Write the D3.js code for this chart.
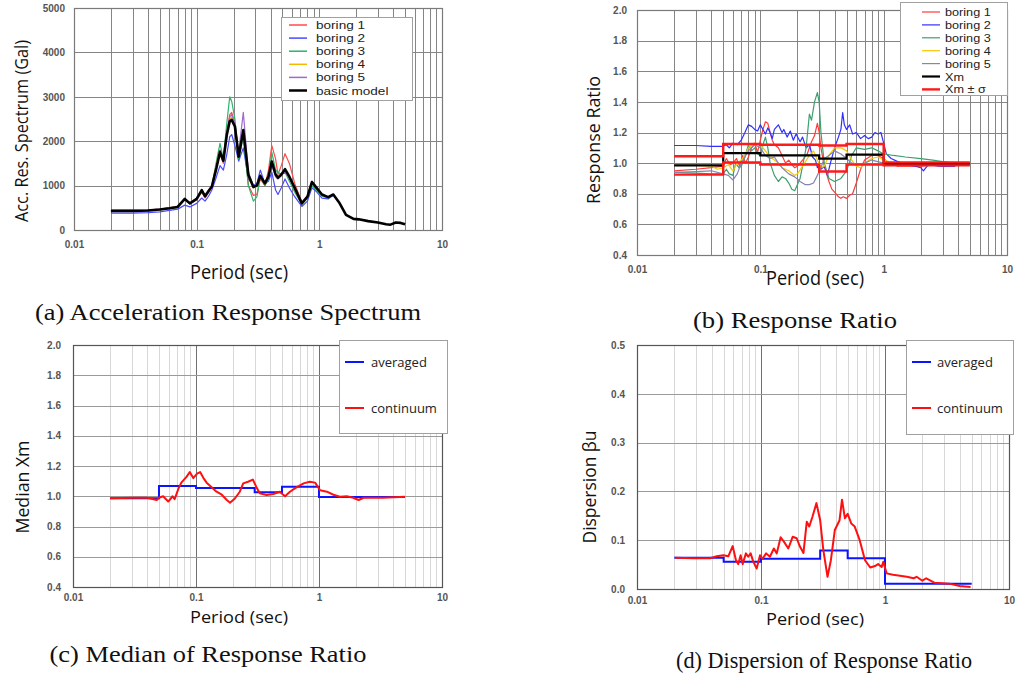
<!DOCTYPE html>
<html>
<head>
<meta charset="utf-8">
<script src="https://cdn.jsdelivr.net/npm/d3@7"></script>
<style>
  body { margin: 0; background: #fff; }
  svg { display: block; }
</style>
</head>
<body>
<svg id="fig" width="1016" height="674"></svg>
<script>
// ---- (a) acceleration response spectrum ----
const periodsA = [0.02, 0.03, 0.04, 0.05, 0.06, 0.07, 0.08, 0.088, 0.1, 0.11, 0.117, 0.125, 0.133, 0.145, 0.155, 0.165, 0.176, 0.186, 0.193, 0.205,
  0.22, 0.24, 0.264, 0.29, 0.31, 0.33, 0.36, 0.385, 0.41, 0.44, 0.46, 0.49, 0.525, 0.57, 0.63, 0.72, 0.8, 0.87, 0.95, 1.05, 1.18, 1.3,
  1.45, 1.65, 1.9, 2.1, 2.5, 3.0, 3.5, 3.8, 4.2, 4.6, 5.0];
const specBoring1 = [440, 440, 450, 470, 500, 530, 680, 590, 680, 850, 720, 840, 960, 1450, 1700, 1500, 2200, 2600, 2650, 2400,
  1700, 2150, 1000, 780, 800, 1150, 1000, 1350, 1900, 1600, 1250, 1450, 1720, 1500, 1050, 620, 760, 1080, 950, 790, 740, 800];
const specBoring2 = [380, 380, 390, 410, 440, 470, 560, 520, 600, 720, 650, 760, 900, 1200, 1450, 1350, 1700, 2100, 2150, 1900,
  1550, 1850, 1150, 1000, 1050, 1350, 1050, 1100, 1300, 900, 800, 950, 1150, 950, 750, 530, 650, 950, 860, 720, 700, 780];
const specBoring3 = [420, 420, 430, 450, 480, 510, 690, 590, 690, 870, 740, 870, 990, 1550, 1950, 1600, 2400, 3000, 2900, 2500,
  1600, 2100, 1000, 650, 750, 1200, 1000, 1150, 1750, 1350, 1300, 1250, 1300, 1100, 850, 580, 720, 1000, 900, 760, 720, 790];
const specBoring4 = [430, 430, 440, 465, 500, 540, 680, 600, 690, 880, 750, 870, 970, 1500, 1800, 1580, 2200, 2500, 2550, 2350,
  1680, 2200, 1200, 950, 980, 1200, 1030, 1180, 1500, 1220, 1150, 1230, 1340, 1180, 930, 590, 740, 1060, 940, 790, 735, 795];
const specBoring5 = [440, 440, 450, 470, 500, 530, 700, 610, 710, 910, 770, 890, 990, 1450, 1800, 1580, 2200, 2550, 2600, 2400,
  1750, 2650, 1300, 1000, 1020, 1230, 1060, 1220, 1450, 1200, 1150, 1220, 1320, 1160, 920, 600, 760, 1100, 960, 800, 750, 800];
const specBasic = [430, 430, 440, 460, 490, 520, 700, 600, 700, 900, 760, 880, 980, 1400, 1760, 1560, 2140, 2450, 2480, 2330,
  1650, 2250, 1240, 970, 1000, 1220, 1050, 1200, 1540, 1250, 1180, 1250, 1370, 1200, 950, 600, 750, 1080, 950, 800, 740, 800,
  620, 340, 250, 240, 200, 170, 130, 120, 170, 160, 130];

// ---- (b) response ratio, [period, ratio] ----
const ratioBoring1 = [[0.02,0.95],[0.03,0.96],[0.04,0.97],[0.05,0.98],[0.053,1.03],[0.057,0.99],[0.06,1.0],[0.064,1.03],[0.068,0.98],[0.072,1.05],
  [0.076,1.0],[0.08,1.04],[0.085,1.1],[0.09,1.13],[0.095,1.07],[0.1,1.15],[0.105,1.22],[0.11,1.27],[0.115,1.26],[0.12,1.2],[0.125,1.15],
  [0.13,1.12],[0.14,1.1],[0.15,1.05],[0.16,1.0],[0.17,1.02],[0.18,0.99],[0.19,0.97],[0.2,0.98],[0.22,1.02],[0.24,1.06],[0.26,1.14],
  [0.275,1.18],[0.29,1.26],[0.3,1.2],[0.31,1.1],[0.33,0.98],[0.36,0.88],[0.38,0.83],[0.4,0.81],[0.43,0.78],[0.45,0.77],[0.47,0.78],
  [0.5,0.77],[0.53,0.79],[0.56,0.8],[0.6,0.87],[0.65,0.96],[0.7,1.02],[0.8,1.05],[0.9,1.05],[1.0,1.03],[1.1,1.0],[1.3,0.98],
  [1.6,0.98],[2.0,0.98],[2.5,0.99],[3.0,0.98],[3.8,0.98]];
const ratioBoring2 = [[0.02,1.115],[0.03,1.115],[0.04,1.11],[0.05,1.11],[0.053,1.12],[0.056,1.1],[0.06,1.13],[0.065,1.12],[0.07,1.15],
  [0.075,1.2],[0.08,1.25],[0.085,1.24],[0.09,1.22],[0.095,1.21],[0.1,1.25],[0.105,1.22],[0.11,1.19],[0.115,1.23],[0.12,1.2],[0.125,1.16],
  [0.13,1.22],[0.14,1.25],[0.15,1.2],[0.155,1.22],[0.165,1.17],[0.175,1.21],[0.185,1.15],[0.195,1.19],[0.21,1.14],[0.22,1.17],
  [0.235,1.1],[0.25,1.12],[0.265,1.04],[0.28,1.02],[0.29,0.97],[0.3,1.0],[0.31,0.96],[0.33,0.98],[0.35,0.92],[0.37,1.0],[0.4,1.1],
  [0.43,1.17],[0.45,1.22],[0.465,1.33],[0.48,1.25],[0.5,1.22],[0.53,1.25],[0.56,1.19],[0.6,1.2],[0.65,1.16],[0.7,1.18],[0.75,1.16],
  [0.8,1.17],[0.85,1.2],[0.9,1.19],[0.95,1.2],[1.0,1.13],[1.05,1.06],[1.15,1.03],[1.3,1.01],[1.5,0.99],[1.8,0.98],[2.0,0.97],
  [2.1,0.95],[2.3,0.99],[2.8,0.98],[3.3,0.98],[3.8,0.98]];
const ratioBoring3 = [[0.02,0.94],[0.03,0.935],[0.04,0.93],[0.05,0.93],[0.053,0.96],[0.056,0.93],[0.06,0.92],[0.063,1.0],[0.067,0.97],
  [0.07,0.98],[0.075,1.04],[0.08,1.12],[0.085,1.08],[0.09,1.1],[0.095,1.06],[0.1,1.05],[0.105,1.12],[0.11,1.17],[0.115,1.1],[0.12,1.0],
  [0.13,0.92],[0.14,0.88],[0.15,0.91],[0.16,0.9],[0.17,0.87],[0.18,0.83],[0.19,0.82],[0.2,0.86],[0.21,0.9],[0.22,0.98],[0.235,1.1],
  [0.25,1.32],[0.26,1.28],[0.275,1.4],[0.29,1.46],[0.3,1.4],[0.31,1.2],[0.33,1.0],[0.36,0.9],[0.4,0.88],[0.45,0.9],[0.5,0.95],
  [0.55,1.05],[0.6,1.1],[0.7,1.09],[0.8,1.1],[0.9,1.08],[1.0,1.06],[1.2,1.05],[1.5,1.04],[2.0,1.03],[2.5,1.02],[3.0,1.01],[3.8,1.0]];
const ratioBoring4 = [[0.02,0.985],[0.03,0.985],[0.04,0.98],[0.045,0.96],[0.05,0.97],[0.055,0.99],[0.06,0.95],[0.065,1.0],[0.07,1.02],
  [0.075,1.05],[0.08,1.1],[0.09,1.13],[0.1,1.12],[0.11,1.08],[0.12,1.04],[0.13,1.02],[0.14,1.0],[0.15,0.97],[0.17,0.95],[0.19,0.92],
  [0.2,0.93],[0.22,0.98],[0.25,1.05],[0.27,1.08],[0.29,1.02],[0.31,0.97],[0.33,0.98],[0.36,1.05],[0.4,1.1],[0.45,1.1],[0.5,1.08],
  [0.55,1.02],[0.6,0.98],[0.65,0.97],[0.7,1.0],[0.8,1.03],[0.9,1.04],[1.0,1.02],[1.2,1.0],[1.5,0.99],[2.0,0.99],[3.0,0.99],[3.8,0.99]];
const ratioBoring5 = [[0.02,0.94],[0.03,0.945],[0.04,0.95],[0.05,0.93],[0.055,0.92],[0.06,0.89],[0.065,0.93],[0.07,1.0],[0.08,1.08],
  [0.09,1.12],[0.1,1.1],[0.11,1.05],[0.12,1.03],[0.13,1.04],[0.14,1.0],[0.15,0.97],[0.17,0.93],[0.19,0.91],[0.21,0.88],[0.23,0.86],
  [0.25,0.86],[0.27,0.87],[0.29,0.92],[0.31,0.97],[0.33,1.03],[0.36,1.05],[0.4,1.08],[0.45,1.06],[0.5,1.03],[0.55,1.0],[0.6,0.99],
  [0.7,1.0],[0.8,1.02],[1.0,1.0],[1.5,0.99],[3.8,0.99]];

// period bands used for the averaged (step) values
const bandEdges = [0.02, 0.05, 0.1, 0.3, 0.5, 1, 5];
const xmBands = [0.985, 1.065, 1.05, 1.03, 1.055, 0.995];
const xmPlusBands = [1.045, 1.125, 1.12, 1.115, 1.125, 1.005];
const xmMinusBands = [0.925, 1.005, 0.99, 0.945, 0.99, 0.985];

// ---- (c) median ----
const medianAveraged = [0.986, 1.067, 1.055, 1.026, 1.063, 0.995];
const medianContinuum = [[0.02,0.986],[0.031,0.99],[0.04,0.99],[0.048,0.975],[0.05,0.99],[0.054,1.0],[0.0595,0.965],[0.0645,1.0],
  [0.067,0.98],[0.072,1.05],[0.076,1.09],[0.084,1.13],[0.089,1.16],[0.095,1.12],[0.102,1.15],[0.108,1.16],[0.115,1.12],[0.122,1.09],
  [0.134,1.06],[0.147,1.03],[0.162,1.01],[0.178,0.975],[0.189,0.957],[0.207,0.985],[0.227,1.03],[0.242,1.085],[0.265,1.096],
  [0.29,1.11],[0.31,1.06],[0.33,1.02],[0.374,1.008],[0.425,1.015],[0.48,1.03],[0.53,1.0],[0.58,1.03],[0.66,1.06],[0.75,1.085],
  [0.84,1.096],[0.93,1.09],[1.02,1.04],[1.16,1.03],[1.31,1.01],[1.48,0.997],[1.68,1.0],[1.9,0.99],[2.1,0.975],[2.3,0.99],
  [3.3,0.99],[5.0,0.997]];

// ---- (d) dispersion ----
const dispAveraged = [0.064, 0.056, 0.062, 0.079, 0.063, 0.011];
const dispContinuum = [[0.0203,0.064],[0.0285,0.063],[0.0388,0.063],[0.044,0.067],[0.0497,0.069],[0.0545,0.067],[0.0591,0.088],
  [0.0628,0.059],[0.0655,0.051],[0.0685,0.069],[0.0711,0.051],[0.0756,0.073],[0.0789,0.066],[0.0825,0.073],[0.0866,0.056],
  [0.0923,0.042],[0.0982,0.069],[0.103,0.062],[0.11,0.073],[0.118,0.066],[0.127,0.083],[0.134,0.073],[0.144,0.106],[0.153,0.097],
  [0.166,0.083],[0.18,0.107],[0.194,0.104],[0.206,0.087],[0.22,0.074],[0.234,0.138],[0.245,0.128],[0.26,0.148],[0.28,0.176],
  [0.3,0.141],[0.318,0.08],[0.344,0.025],[0.366,0.059],[0.394,0.121],[0.43,0.141],[0.45,0.183],[0.475,0.145],[0.5,0.154],
  [0.535,0.134],[0.57,0.128],[0.625,0.1],[0.69,0.059],[0.76,0.044],[0.83,0.047],[0.88,0.051],[0.94,0.045],[0.97,0.056],
  [1.03,0.032],[1.16,0.029],[1.5,0.025],[1.7,0.022],[1.8,0.025],[2.0,0.017],[2.15,0.022],[2.5,0.013],[3.3,0.011],[4.0,0.006],[4.9,0.004]];

const xTickValues = [0.01, 0.1, 1, 10];

const svg = d3.select('#fig');
const fmtPeriod = d => d3.format('~g')(d);
const titleFont = 'Open Sans, Noto Sans, sans-serif';

// 画一个面板的坐标框和网格
function drawFrame(cfg) {
  const x = d3.scaleLog().domain([0.01, 10]).range([cfg.left, cfg.right]);
  const y = d3.scaleLinear().domain(cfg.yDomain).range([cfg.bottom, cfg.top]);
  const g = svg.append('g');

  // vertical grid (minor + decade)
  const minor = x.ticks().filter(t => t > 0.01 && t < 10);
  g.selectAll('.vgrid').data(minor).enter().append('line')
    .attr('x1', d => Math.round(x(d)) + 0.5).attr('x2', d => Math.round(x(d)) + 0.5)
    .attr('y1', cfg.top).attr('y2', cfg.bottom)
    .attr('stroke', d => {
      const decade = Math.abs(Math.log10(d) - Math.round(Math.log10(d))) < 1e-6;
      if (cfg.twoTone) return decade ? '#707070' : '#d8d8d8';
      return '#858585';
    })
    .attr('stroke-width', 1);

  // horizontal grid
  g.selectAll('.hgrid').data(cfg.yTicks.slice(1, -1)).enter().append('line')
    .attr('x1', cfg.left).attr('x2', cfg.right)
    .attr('y1', d => Math.round(y(d)) + 0.5).attr('y2', d => Math.round(y(d)) + 0.5)
    .attr('stroke', cfg.twoTone ? '#9a9a9a' : '#858585').attr('stroke-width', 1);

  g.append('rect')
    .attr('x', cfg.left + 0.5).attr('y', cfg.top + 0.5)
    .attr('width', cfg.right - cfg.left).attr('height', cfg.bottom - cfg.top)
    .attr('fill', 'none').attr('stroke', cfg.twoTone ? '#555' : '#7a7a7a').attr('stroke-width', 1.2);

  // tick labels
  const xAxis = g.append('g').attr('transform', `translate(0,${cfg.bottom + cfg.xLabelGap})`)
    .call(d3.axisBottom(x).tickValues(xTickValues).tickFormat(fmtPeriod).tickSize(0));
  const yAxis = g.append('g').attr('transform', `translate(${cfg.left - cfg.yLabelGap},0)`)
    .call(d3.axisLeft(y).tickValues(cfg.yTicks).tickFormat(cfg.yFormat).tickSize(0));
  [xAxis, yAxis].forEach(a => {
    a.select('.domain').remove();
    a.selectAll('text').attr('font-family', 'Liberation Sans, Arial, sans-serif')
      .attr('font-size', 10).attr('font-weight', 'bold').attr('fill', '#555');
  });

  // axis titles
  g.append('text').attr('x', cfg.xTitle[0]).attr('y', cfg.xTitle[1])
    .attr('text-anchor', 'middle').attr('font-family', titleFont)
    .attr('font-size', cfg.xTitleSize).attr('fill', '#111')
    .attr('textLength', 98).attr('lengthAdjust', 'spacingAndGlyphs')
    .text('Period (sec)');
  g.append('text')
    .attr('transform', `translate(${cfg.yTitle[0]},${cfg.yTitle[1]}) rotate(-90)`)
    .attr('text-anchor', 'middle').attr('dominant-baseline', 'central')
    .attr('font-family', titleFont).attr('font-size', 19).attr('fill', '#111')
    .attr('textLength', cfg.yTitleLen).attr('lengthAdjust', 'spacingAndGlyphs')
    .text(cfg.yTitleText);

  return { x, y, g };
}

function drawLine(p, pts, color, width) {
  const line = d3.line().x(d => p.x(d[0])).y(d => p.y(d[1]));
  p.g.append('path').datum(pts).attr('d', line)
    .attr('fill', 'none').attr('stroke', color).attr('stroke-width', width)
    .attr('stroke-linejoin', 'round');
}

function drawSteps(p, values, color, width) {
  const pts = bandEdges.map((e, i) => [e, values[Math.min(i, values.length - 1)]]);
  const line = d3.line().x(d => p.x(d[0])).y(d => p.y(d[1])).curve(d3.curveStepAfter);
  p.g.append('path').datum(pts).attr('d', line)
    .attr('fill', 'none').attr('stroke', color).attr('stroke-width', width);
}

function drawLegend(box, items, opts) {
  const g = svg.append('g');
  g.append('rect').attr('x', box[0] + 0.5).attr('y', box[1] + 0.5)
    .attr('width', box[2]).attr('height', box[3])
    .attr('fill', '#fff').attr('stroke', '#a0a0a0').attr('stroke-width', 1);
  items.forEach((it, i) => {
    const yy = opts.y0 + i * opts.dy;
    g.append('line').attr('x1', opts.lx1).attr('x2', opts.lx2).attr('y1', yy).attr('y2', yy)
      .attr('stroke', it.color).attr('stroke-width', it.width);
    const t = g.append('text').attr('x', opts.tx).attr('y', yy).attr('dominant-baseline', 'central')
      .attr('font-family', opts.font).attr('font-size', opts.size)
      .attr('fill', '#222').text(it.label);
    if (opts.stretch) t.attr('textLength', t.node().getComputedTextLength() * opts.stretch)
      .attr('lengthAdjust', 'spacingAndGlyphs');
  });
}

// ---------- panel (a) ----------
const pa = drawFrame({
  left: 74, right: 442, top: 8, bottom: 230, yDomain: [0, 5000],
  yTicks: [0, 1000, 2000, 3000, 4000, 5000], yFormat: d3.format('d'),
  xLabelGap: 8, yLabelGap: 6, xTitle: [239, 279], xTitleSize: 20, yTitle: [21, 131],
  yTitleText: 'Acc. Res. Spectrum (Gal)', yTitleLen: 182, twoTone: false
});
const specColors = ['#ff4a4a', '#4a4aff', '#2db36b', '#f5b800', '#9b6bcf'];
[specBoring1, specBoring2, specBoring3, specBoring4, specBoring5].forEach((vals, i) => {
  drawLine(pa, vals.map((v, j) => [periodsA[j], v]), specColors[i], 1.2);
});
drawLine(pa, specBasic.map((v, j) => [periodsA[j], v]), '#000', 2.6);
drawLegend([281, 17, 131, 83], [
  { label: 'boring 1', color: specColors[0], width: 1.5 },
  { label: 'boring 2', color: specColors[1], width: 1.5 },
  { label: 'boring 3', color: specColors[2], width: 1.5 },
  { label: 'boring 4', color: specColors[3], width: 1.5 },
  { label: 'boring 5', color: specColors[4], width: 1.5 },
  { label: 'basic model', color: '#000', width: 2.5 }
], { y0: 25, dy: 13.1, lx1: 289, lx2: 307, tx: 316, size: 11.5, stretch: 1.18,
     font: 'Liberation Sans, Arial, sans-serif' });

// ---------- panel (b) ----------
const pb = drawFrame({
  left: 637, right: 1007, top: 10, bottom: 255, yDomain: [0.4, 2.0],
  yTicks: [0.4, 0.6, 0.8, 1.0, 1.2, 1.4, 1.6, 1.8, 2.0], yFormat: d3.format('.1f'),
  xLabelGap: 8, yLabelGap: 7, xTitle: [815, 285], xTitleSize: 20, yTitle: [593, 140],
  yTitleText: 'Response Ratio', yTitleLen: 128, twoTone: false
});
const ratioColors = ['#ff3a3a', '#2f2fff', '#3f9e6e', '#f7c800', '#8585b5'];
[ratioBoring1, ratioBoring2, ratioBoring3, ratioBoring4, ratioBoring5].forEach((pts, i) => {
  drawLine(pb, pts, ratioColors[i], 1.2);
});
drawSteps(pb, xmBands, '#000', 2.2);
drawSteps(pb, xmPlusBands, '#ff1a1a', 2.4);
drawSteps(pb, xmMinusBands, '#ff1a1a', 2.4);
drawLegend([900, 2, 107, 93], [
  { label: 'boring 1', color: ratioColors[0], width: 1.2 },
  { label: 'boring 2', color: ratioColors[1], width: 1.2 },
  { label: 'boring 3', color: ratioColors[2], width: 1.2 },
  { label: 'boring 4', color: ratioColors[3], width: 1.2 },
  { label: 'boring 5', color: ratioColors[4], width: 1.2 },
  { label: 'Xm', color: '#000', width: 2.2 },
  { label: 'Xm ± σ', color: '#ff1a1a', width: 2.4 }
], { y0: 12, dy: 12.9, lx1: 922, lx2: 940, tx: 945, size: 11.3, stretch: 1.12,
     font: 'Liberation Sans, Arial, sans-serif' });

// ---------- panel (c) ----------
const pc = drawFrame({
  left: 73, right: 442, top: 345, bottom: 587, yDomain: [0.4, 2.0],
  yTicks: [0.4, 0.6, 0.8, 1.0, 1.2, 1.4, 1.6, 1.8, 2.0], yFormat: d3.format('.1f'),
  xLabelGap: 4, yLabelGap: 9, xTitle: [239, 623], xTitleSize: 17, yTitle: [22, 487],
  yTitleText: 'Median Xm', yTitleLen: 93, twoTone: true
});
drawSteps(pc, medianAveraged, '#0a14ff', 2);
drawLine(pc, medianContinuum, '#ff1010', 2);
drawLegend([339, 340, 108, 93], [
  { label: 'averaged', color: '#0a14ff', width: 2 },
  { label: 'continuum', color: '#ff1010', width: 2 }
], { y0: 362, dy: 46, lx1: 345, lx2: 364, tx: 371, size: 13, font: titleFont });

// ---------- panel (d) ----------
const pd = drawFrame({
  left: 637, right: 1009, top: 345, bottom: 589, yDomain: [0, 0.5],
  yTicks: [0, 0.1, 0.2, 0.3, 0.4, 0.5], yFormat: d3.format('.1f'),
  xLabelGap: 5, yLabelGap: 9, xTitle: [815, 625], xTitleSize: 17, yTitle: [589, 487],
  yTitleText: 'Dispersion βu', yTitleLen: 113, twoTone: true
});
drawSteps(pd, dispAveraged, '#0a14ff', 2);
drawLine(pd, dispContinuum, '#ff1010', 2);
drawLegend([906, 340, 107, 94], [
  { label: 'averaged', color: '#0a14ff', width: 2 },
  { label: 'continuum', color: '#ff1010', width: 2 }
], { y0: 362, dy: 46, lx1: 912, lx2: 931, tx: 937, size: 13, font: titleFont });

// ---------- captions ----------
const captions = [
  { text: '(a) Acceleration Response Spectrum', x: 228, y: 320, len: 386 },
  { text: '(b) Response Ratio', x: 795, y: 328, len: 204 },
  { text: '(c) Median of Response Ratio', x: 208, y: 662, len: 317 },
  { text: '(d) Dispersion of Response Ratio', x: 824, y: 668, len: 296 }
];
svg.selectAll('.caption').data(captions).enter().append('text')
  .attr('class', 'caption')
  .attr('x', d => d.x).attr('y', d => d.y).attr('text-anchor', 'middle')
  .attr('font-family', 'Liberation Serif, Times New Roman, serif')
  .attr('font-size', 23).attr('fill', '#111')
  .attr('textLength', d => d.len).attr('lengthAdjust', 'spacingAndGlyphs')
  .text(d => d.text);
</script>
</body>
</html>
